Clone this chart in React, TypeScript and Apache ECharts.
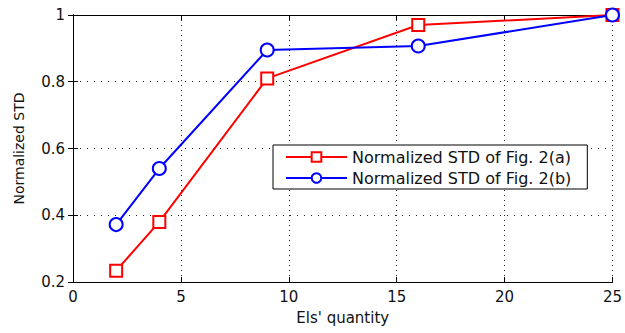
import React, { useEffect, useRef } from "react";
import * as echarts from "echarts";

const xValues = [2, 4, 9, 16, 25];
const seriesAName = "Normalized STD of Fig. 2(a)";
const seriesBName = "Normalized STD of Fig. 2(b)";
const seriesA = [0.234, 0.38, 0.81, 0.97, 1.0];
const seriesB = [0.372, 0.54, 0.895, 0.907, 1.0];
const xAxisTitle = "Els' quantity";
const yAxisTitle = "Normalized STD";

export default function App() {
  const ref = useRef<HTMLDivElement>(null);
  useEffect(() => {
    if (!ref.current) return;
    const chart = echarts.init(ref.current, null, { renderer: "svg" });
    const font = "DejaVu Sans, Verdana, sans-serif";
    const labelStyle = { color: "#111", fontSize: 15, fontFamily: font };
    const hiddenAxisCommon = {
      axisLabel: { show: false },
      splitLine: { show: false },
      axisLine: { show: true, lineStyle: { color: "#000", width: 1 } },
      axisTick: { show: true, inside: true, length: 5, lineStyle: { color: "#000" } },
    };
    chart.setOption({
      animation: false,
      backgroundColor: "#fff",
      grid: { left: 73, top: 15, right: 10, bottom: 51, containLabel: false },
      legend: {
        orient: "vertical",
        left: 273,
        top: 145,
        padding: [4, 16, 3, 12],
        itemGap: 5,
        itemWidth: 61,
        itemHeight: 12,
        borderColor: "#000",
        borderWidth: 1,
        borderRadius: 0,
        backgroundColor: "#fff",
        textStyle: { color: "#111", fontSize: 16, fontFamily: font },
        data: [seriesAName, seriesBName],
      },
      xAxis: [
        {
          type: "value",
          min: 0,
          max: 25,
          interval: 5,
          position: "bottom",
          name: xAxisTitle,
          nameLocation: "middle",
          nameGap: 28,
          nameTextStyle: { color: "#111", fontSize: 15, fontFamily: font },
          axisLabel: { ...labelStyle, margin: 7 },
          axisLine: { show: true, lineStyle: { color: "#000", width: 1 } },
          axisTick: { show: true, inside: true, length: 5, lineStyle: { color: "#000" } },
          splitLine: { show: true, lineStyle: { type: [1, 4], color: "#222", width: 1 } },
        },
        { type: "value", min: 0, max: 25, interval: 5, position: "top", ...hiddenAxisCommon },
      ],
      yAxis: [
        {
          type: "value",
          min: 0.2,
          max: 1,
          interval: 0.2,
          position: "left",
          name: yAxisTitle,
          nameLocation: "middle",
          nameGap: 47,
          nameTextStyle: { color: "#111", fontSize: 14, fontFamily: font },
          axisLabel: { ...labelStyle, margin: 8 },
          axisLine: { show: true, lineStyle: { color: "#000", width: 1 } },
          axisTick: { show: true, inside: true, length: 5, lineStyle: { color: "#000" } },
          splitLine: { show: true, lineStyle: { type: [1, 6], color: "#222", width: 1 } },
        },
        { type: "value", min: 0.2, max: 1, interval: 0.2, position: "right", ...hiddenAxisCommon },
      ],
      series: [
        {
          name: seriesAName,
          type: "line",
          data: xValues.map((x, i) => [x, seriesA[i]]),
          symbol: "emptyRect",
          symbolSize: 12,
          color: "#ff0000",
          lineStyle: { color: "#ff0000", width: 2 },
          itemStyle: { color: "#ff0000", borderColor: "#ff0000", borderWidth: 2 },
          z: 3,
        },
        {
          name: seriesBName,
          type: "line",
          data: xValues.map((x, i) => [x, seriesB[i]]),
          symbol: "emptyCircle",
          symbolSize: 13,
          color: "#0000ff",
          lineStyle: { color: "#0000ff", width: 2 },
          itemStyle: { color: "#0000ff", borderColor: "#0000ff", borderWidth: 2 },
          z: 4,
        },
      ],
    });
    return () => chart.dispose();
  }, []);
  return (
    <div
      ref={ref}
      style={{ position: "absolute", left: 0, top: 0, width: 625, height: 333 }}
    />
  );
}
